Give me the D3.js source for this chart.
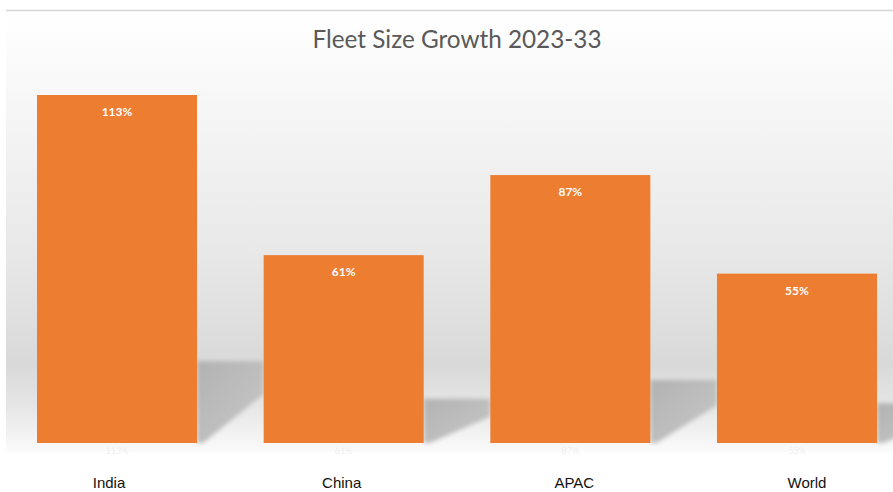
<!DOCTYPE html>
<html>
<head>
<meta charset="utf-8">
<script src="https://cdn.jsdelivr.net/npm/d3@7"></script>
<style>
  body { margin: 0; background: #fff; }
  svg { display: block; }
</style>
</head>
<body>
<svg id="chart"></svg>
<script>
const WIDTH = 893;
const HEIGHT = 492;

const TITLE = "Fleet Size Growth 2023-33";
const categories = ["India", "China", "APAC", "World"];
const growth = [113, 61, 87, 55];

const BASELINE = 443;
const BAR_COLOR = "#ed7d31";

const data = categories.map((c, i) => ({ name: c, value: growth[i] }));

const $svg = d3.select("#chart").attr("width", WIDTH).attr("height", HEIGHT);

const x = d3.scaleBand()
  .domain(categories)
  .range([37, 877])
  .paddingInner(0.294)
  .paddingOuter(0);

const y = d3.scaleLinear().domain([0, 113]).range([BASELINE, 95]);

const labelX = d3.scalePoint().domain(categories).range([109, 807]);

const defs = $svg.append("defs");

// wall / floor backdrop
const bg = defs.append("linearGradient")
  .attr("id", "bg").attr("x1", 0).attr("y1", 0).attr("x2", 0).attr("y2", 1);
bg.append("stop").attr("offset", "0%").attr("stop-color", "#ffffff");
bg.append("stop").attr("offset", "20%").attr("stop-color", "#f7f7f7");
bg.append("stop").attr("offset", "55%").attr("stop-color", "#e8e8e8");
bg.append("stop").attr("offset", "80%").attr("stop-color", "#d9d9d9");
bg.append("stop").attr("offset", "90%").attr("stop-color", "#e6e6e6");
bg.append("stop").attr("offset", "100%").attr("stop-color", "#fbfbfb");

const sh = defs.append("linearGradient")
  .attr("id", "shadow").attr("x1", 0).attr("y1", 0).attr("x2", 1).attr("y2", 1);
sh.append("stop").attr("offset", "0%").attr("stop-color", "#b2b2b2");
sh.append("stop").attr("offset", "100%").attr("stop-color", "#c8c8c8");

defs.append("filter").attr("id", "blur")
  .append("feGaussianBlur").attr("stdDeviation", 2);

defs.append("clipPath").attr("id", "plotClip")
  .append("rect").attr("x", 6).attr("y", 11).attr("width", WIDTH - 6).attr("height", 441);

$svg.append("rect")
  .attr("x", 6).attr("y", 11)
  .attr("width", WIDTH - 6).attr("height", 441)
  .attr("fill", "url(#bg)");

$svg.append("line")
  .attr("x1", 6).attr("x2", WIDTH)
  .attr("y1", 10.5).attr("y2", 10.5)
  .attr("stroke", "#d4d4d4").attr("stroke-width", 1.5);

// floor shadows cast to the right of each bar
const gap = x.step() - x.bandwidth();
$svg.append("g")
  .attr("clip-path", "url(#plotClip)")
  .selectAll("path")
  .data(data)
  .join("path")
  .attr("filter", "url(#blur)")
  .attr("fill", "url(#shadow)")
  .attr("d", d => {
    const x1 = x(d.name) + x.bandwidth();
    const h = BASELINE - y(d.value);
    const ys = BASELINE - h * 0.235;
    const yr = ys + (BASELINE - ys) * 0.4;
    return `M${x1},${ys} L${x1 + gap},${ys} L${x1 + gap},${yr} L${x1 + 6},${BASELINE} L${x1},${BASELINE} Z`;
  });

$svg.append("g")
  .selectAll("rect")
  .data(data)
  .join("rect")
  .attr("x", d => x(d.name))
  .attr("y", d => y(d.value))
  .attr("width", x.bandwidth())
  .attr("height", d => y(0) - y(d.value))
  .attr("fill", BAR_COLOR);

// value labels
$svg.append("g")
  .selectAll("text")
  .data(data)
  .join("text")
  .attr("x", d => x(d.name) + x.bandwidth() / 2)
  .attr("y", d => y(d.value) + 21)
  .attr("text-anchor", "middle")
  .attr("font-family", "Lato, 'Open Sans', sans-serif")
  .attr("font-weight", "bold")
  .attr("font-size", 12)
  .attr("fill", "#ffffff")
  .text(d => d.value + "%");

// faint reflection labels under the bars
$svg.append("g")
  .selectAll("text")
  .data(data)
  .join("text")
  .attr("x", d => x(d.name) + x.bandwidth() / 2)
  .attr("y", BASELINE + 11)
  .attr("text-anchor", "middle")
  .attr("font-family", "Lato, sans-serif")
  .attr("font-size", 9)
  .attr("fill", "#efefef")
  .text(d => d.value + "%");

// category labels
$svg.append("g")
  .selectAll("text")
  .data(categories)
  .join("text")
  .attr("x", d => labelX(d))
  .attr("y", 488)
  .attr("text-anchor", "middle")
  .attr("font-family", "'Liberation Sans', Arial, sans-serif")
  .attr("font-size", 15)
  .attr("fill", "#111111")
  .text(d => d);

$svg.append("text")
  .attr("x", 457)
  .attr("y", 48)
  .attr("text-anchor", "middle")
  .attr("font-family", "Lato, 'Open Sans', sans-serif")
  .attr("font-size", 25)
  .attr("textLength", 289)
  .attr("lengthAdjust", "spacingAndGlyphs")
  .attr("fill", "#595959")
  .text(TITLE);
</script>
</body>
</html>
